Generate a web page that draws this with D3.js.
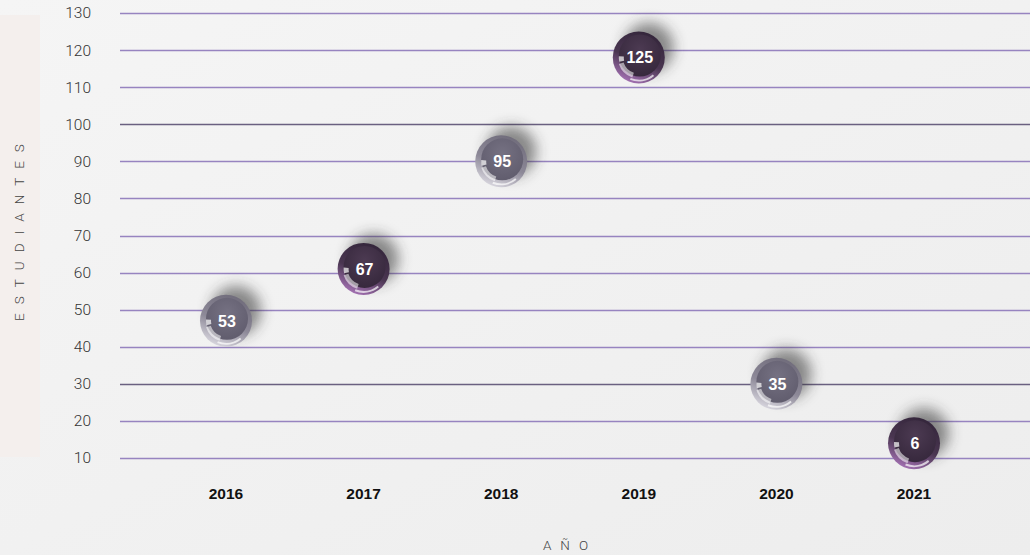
<!DOCTYPE html>
<html>
<head>
<meta charset="utf-8">
<title>Estudiantes por año</title>
<script src="https://d3js.org/d3.v7.min.js"></script>
<style>
  html, body { margin: 0; padding: 0; }
  body { width: 1030px; height: 555px; overflow: hidden; }
  .ytick { font: 300 15.5px Roboto, "Liberation Sans", sans-serif; fill: #333; }
  .xtick { font: bold 15.5px "Liberation Sans", Arial, sans-serif; fill: #111; }
  .axis-title { font: 300 13.5px Roboto, "Liberation Sans", sans-serif; fill: #444; }
  .bubble-label { font: bold 16px "Liberation Sans", Arial, sans-serif; fill: #fff; }
</style>
</head>
<body>
<script>
// data
var years = ["2016", "2017", "2018", "2019", "2020", "2021"];
var students = [53, 67, 95, 125, 35, 6];          // number printed in each bubble
var plotLevel = [47, 61, 90, 118, 30, 14];        // height at which each bubble sits
var bubbleTone = ["grey", "purple", "grey", "purple", "grey", "purple"];
var yTicks = [10, 20, 30, 40, 50, 60, 70, 80, 90, 100, 110, 120, 130];

var W = 1030, H = 555;

var svg = d3.select("body").append("svg")
    .attr("width", W)
    .attr("height", H);

var defs = svg.append("defs");

// page background
var bg = defs.append("linearGradient").attr("id", "bg")
    .attr("x1", 0).attr("y1", 0).attr("x2", 1).attr("y2", 1);
bg.append("stop").attr("offset", "0%").attr("stop-color", "#f5f5f5");
bg.append("stop").attr("offset", "100%").attr("stop-color", "#ededed");

svg.append("rect").attr("width", W).attr("height", H).attr("fill", "url(#bg)");

// bubble gradients
var tones = {
  grey:   { rimTop: "#6f6b7a", rimMid: "#8d8998", rimBot: "#dcdae2", inTop: "#757182", inBot: "#5f5b6c" },
  purple: { rimTop: "#33253a", rimMid: "#4a3651", rimBot: "#a874b8", inTop: "#4c3a52", inBot: "#35273b" }
};
Object.keys(tones).forEach(function(k) {
  var t = tones[k];
  var rim = defs.append("linearGradient").attr("id", "rim-" + k)
      .attr("x1", 0.7).attr("y1", 0).attr("x2", 0.3).attr("y2", 1);
  rim.append("stop").attr("offset", "0%").attr("stop-color", t.rimTop);
  rim.append("stop").attr("offset", "55%").attr("stop-color", t.rimMid);
  rim.append("stop").attr("offset", "100%").attr("stop-color", t.rimBot);

  var inner = defs.append("radialGradient").attr("id", "in-" + k)
      .attr("cx", 0.5).attr("cy", 0.35).attr("r", 0.7);
  inner.append("stop").attr("offset", "0%").attr("stop-color", t.inTop);
  inner.append("stop").attr("offset", "100%").attr("stop-color", t.inBot);
});

var blur = defs.append("filter").attr("id", "shadow")
    .attr("x", "-60%").attr("y", "-60%").attr("width", "220%").attr("height", "220%");
blur.append("feGaussianBlur").attr("stdDeviation", 7);

// y axis title panel
svg.append("rect")
    .attr("x", 0).attr("y", 15)
    .attr("width", 40).attr("height", 442)
    .attr("fill", "#f4efed");

svg.append("text")
    .attr("class", "axis-title")
    .attr("text-anchor", "middle")
    .attr("transform", "translate(24,228) rotate(-90)")
    .style("letter-spacing", "9px")
    .text("ESTUDIANTES");

// scales
var y = d3.scaleLinear().domain([10, 130]).range([458, 13]);
var x = d3.scalePoint().domain(years).range([226, 914]);

// gridlines + tick labels
var grid = svg.append("g");
grid.selectAll("line").data(yTicks).enter().append("line")
    .attr("x1", 120).attr("x2", W)
    .attr("y1", function(d) { return Math.round(y(d)) + 0.5; })
    .attr("y2", function(d) { return Math.round(y(d)) + 0.5; })
    .attr("stroke", function(d) { return (d == 100 || d == 30) ? "#6a6080" : "#9784c0"; })
    .attr("stroke-width", 1.3);

grid.selectAll("text").data(yTicks).enter().append("text")
    .attr("class", "ytick")
    .attr("x", 91)
    .attr("y", function(d) { return y(d); })
    .attr("dy", "0.35em")
    .attr("text-anchor", "end")
    .text(function(d) { return d; });

// x labels
svg.append("g").selectAll("text").data(years).enter().append("text")
    .attr("class", "xtick")
    .attr("x", function(d) { return x(d); })
    .attr("y", 499)
    .attr("text-anchor", "middle")
    .text(function(d) { return d; });

svg.append("text")
    .attr("class", "axis-title")
    .attr("x", 570).attr("y", 550)
    .attr("text-anchor", "middle")
    .style("letter-spacing", "9px")
    .text("AÑO");

// bubbles
var r = 26;
var points = years.map(function(yr, i) {
  return { year: yr, value: students[i], level: plotLevel[i], tone: bubbleTone[i] };
});

var b = svg.append("g").selectAll("g").data(points).enter().append("g")
    .attr("transform", function(d) { return "translate(" + x(d.year) + "," + y(d.level) + ")"; });

b.append("circle")
    .attr("cx", 10).attr("cy", -10).attr("r", r - 1)
    .attr("fill", "#2e2e2e")
    .attr("opacity", 0.55)
    .attr("filter", "url(#shadow)");

b.append("circle")
    .attr("r", r)
    .attr("fill", function(d) { return "url(#rim-" + d.tone + ")"; });

b.append("circle")
    .attr("cx", 1).attr("cy", -2).attr("r", r - 5)
    .attr("fill", function(d) { return "url(#in-" + d.tone + ")"; });

// glossy highlights lower left
var pi = Math.PI;
var hl = [
  { a0: 1.10, a1: 1.40, ri: r - 10, ro: r - 5, op: 0.55 },
  { a0: 1.43, a1: 1.52, ri: r - 11, ro: r - 6, op: 0.7 },
  { a0: 0.78, a1: 1.12, ri: r - 4, ro: r - 2, op: 0.7 }
];
hl.forEach(function(h) {
  var arc = d3.arc().innerRadius(h.ri).outerRadius(h.ro)
      .startAngle(pi * h.a0).endAngle(pi * h.a1);
  b.append("path").attr("d", arc()).attr("fill", "#fff").attr("opacity", h.op);
});

b.append("text")
    .attr("class", "bubble-label")
    .attr("x", 1)
    .attr("text-anchor", "middle")
    .attr("dy", "0.36em")
    .text(function(d) { return d.value; });
</script>
</body>
</html>
